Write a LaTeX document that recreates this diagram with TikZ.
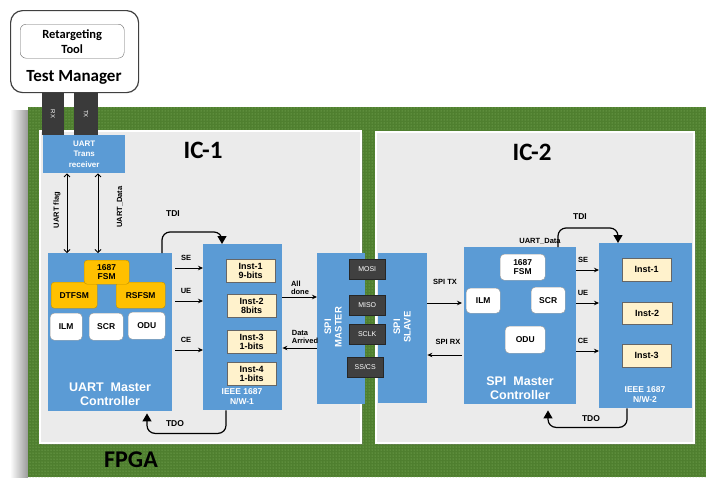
\documentclass[tikz,border=0pt]{standalone}
\usepackage{fontspec}
\setmainfont{Liberation Sans}
\newfontfamily\headfont{Carlito}
\usepackage{tikz}
\usetikzlibrary{positioning,patterns,arrows.meta,shadows}
\definecolor{BoardGreen}{HTML}{4F7F2F}
\definecolor{DotGreen}{HTML}{8CBC6A}
\definecolor{PanelGray}{HTML}{EBEBEB}
\definecolor{BlockBlue}{HTML}{5B9BD5}
\definecolor{FsmOrange}{HTML}{FFC000}
\definecolor{FsmEdge}{HTML}{BF9000}
\definecolor{InstCream}{HTML}{FFF2CC}
\definecolor{PinGray}{HTML}{404040}

\begin{document}
\begin{tikzpicture}[
      x=1pt, y=-1pt,
      every node/.style={align=center, inner sep=0pt, font=\bfseries},
      dims/.style 2 args={minimum width=#1, minimum height=#2},
      panel/.style={fill=PanelGray, draw=white, line width=2pt, anchor=north west, drop shadow={shadow xshift=1.5pt, shadow yshift=-1.5pt, opacity=0.3}},
      block/.style={fill=BlockBlue, anchor=north west},
      fsm/.style={draw=FsmEdge, fill=FsmOrange, rounded corners=3pt, anchor=north west, font=\bfseries\fontsize{8.5}{9.5}\selectfont},
      unit/.style={draw=black!40, fill=white, rounded corners=4pt, anchor=north west, font=\bfseries\fontsize{8.5}{9.5}\selectfont},
      inst/.style={draw=black!60, fill=InstCream, anchor=north west, dims={49}{23}, font=\bfseries\fontsize{9}{9.5}\selectfont},
      pinbox/.style={draw=black!85, fill=PinGray, text=white, anchor=north west, dims={36}{20}, font=\fontsize{7}{7}\selectfont},
      port/.style={fill=PinGray!90!black, text=white, dims={42}{22}, rotate=-90, font=\fontsize{6}{6}\selectfont},
      title/.style={font=\headfont\bfseries\fontsize{25}{25}\selectfont},
      ctrlname/.style={text=white, font=\bfseries\fontsize{12.5}{14}\selectfont},
      nwname/.style={text=white, font=\bfseries\fontsize{8.5}{10}\selectfont},
      tag/.style={font=\bfseries\fontsize{7.5}{8}\selectfont},
      scanname/.style={font=\bfseries\fontsize{8.5}{9}\selectfont},
      arrow/.style={line width=0.8pt, -{Stealth[length=5pt, width=4.5pt]}},
      scanpath/.style={line width=1.2pt, rounded corners=8pt, -{Triangle[length=8pt, width=9pt]}},
      link/.style={line width=0.8pt, {Straight Barb[length=3pt, width=6pt]}-{Straight Barb[length=3pt, width=6pt]}}
    ]
      \useasboundingbox (0,0) rectangle (706,477);
      \fill[white] (0,0) rectangle (706,477);

      % FPGA board
      \shade[left color=white, right color=black!40] (10,110) rectangle (28,477);
      \fill[BoardGreen] (28,107) rectangle (706,477);
      \fill[pattern=dots, pattern color=DotGreen] (28,107) rectangle (706,477);
      \node[font=\headfont\bfseries\fontsize{24}{24}\selectfont] (fpga) at (131,460) {FPGA};
      \node[panel, dims={321}{312}] (ica) at (39,130) {};
      \node[panel, dims={318}{311}] (icb) at (375,131) {};
      \node[title] (icaname) at (203,150) {IC-1};
      \node[title] (icbname) at (532,152) {IC-2};

      % Test manager
      \node[draw=black!75, line width=1.2pt, fill=white, rounded corners=12pt, anchor=north west, dims={128}{82}] (tm) at (10,10) {};
      \node[draw=black!60, rounded corners=6pt, anchor=north west, dims={104}{34}, font=\headfont\bfseries\fontsize{12.5}{15}\selectfont] (retool) at (20,24) {Retargeting\\Tool};
      \node[font=\headfont\bfseries\fontsize{17}{17}\selectfont] (tmname) at (74,77) {Test Manager};
      \node[port] (rx) at (53,114) {RX};
      \node[port, minimum height=24] (tx) at (86,114) {TX};

      % IC-1
      \node[block, dims={82}{38}, text=white, font=\bfseries\fontsize{8}{10.5}\selectfont] (trx) at (43,135) {UART\\Trans\\receiver};
      \node[block, dims={124}{158}] (uartmc) at (48,253) {};
      \node[ctrlname] (uartmcname) at (110,394) {UART\ \ Master\\Controller};
      \node[fsm, dims={46}{26}] (dtfsm) at (51,282) {DTFSM};
      \node[fsm, dims={49}{26}] (rsfsm) at (116,282) {RSFSM};
      \node[fsm, dims={45}{24}] (fsma) at (84,260) {1687\\FSM};
      \node[unit, dims={32}{27}] (ilma) at (50,313) {ILM};
      \node[unit, dims={34}{27}] (scra) at (89,313) {SCR};
      \node[unit, dims={37}{27}] (odua) at (128,312) {ODU};

      \node[block, dims={79}{166}] (nwa) at (203,244) {};
      \node[nwname] (nwaname) at (242,397) {IEEE 1687\\N/W-1};
      \node[inst] (insta) at (226,259) {Inst-1\\9-bits};
      \node[inst] (instb) at (227,294) {Inst-2\\8bits};
      \node[inst] (instc) at (227,330) {Inst-3\\1-bits};
      \node[inst] (instd) at (227,362) {Inst-4\\1-bits};

      \draw[link] (trx.south -| 67,0) -- (uartmc.north -| 67,0);
      \draw[link] (trx.south -| 98,0) -- (uartmc.north -| 98,0);
      \node[tag, rotate=90] (flaglbl) at (57,210) {UART flag};
      \node[tag, rotate=90] (datalbl) at (120,207) {UART\_Data};

      \foreach \sig/\yy in {SE/268, UE/301, CE/350}{
        \draw[arrow, shorten <=3pt] (uartmc.east |- 0,\yy) -- (nwa.west |- 0,\yy);
        \node[tag] (\sig-a) at (186,\yy-10) {\sig};
      }
      \draw[scanpath] (uartmc.north -| 162,0) -- ++(0,-21) -| (nwa.north -| 222,0);
      \node[scanname] (tdia) at (173,214) {TDI};
      \draw[scanpath, shorten >=2pt] (nwa.south -| 226,0) -- ++(0,23) -| (uartmc.south -| 147,0);
      \node[scanname] (tdoa) at (175,424) {TDO};

      % SPI link
      \node[block, dims={48}{151}] (spim) at (317,253) {};
      \node[nwname, rotate=90, font=\bfseries\fontsize{9.5}{10.5}\selectfont] (spimname) at (333,327) {SPI\\MASTER};
      \node[block, dims={49}{150}] (spis) at (378,253) {};
      \node[nwname, rotate=90, font=\bfseries\fontsize{9.5}{10.5}\selectfont] (spisname) at (402,327) {SPI\\SLAVE};
      \node[pinbox] (mosi) at (349,259) {MOSI};
      \node[pinbox] (miso) at (349,295) {MISO};
      \node[pinbox] (sclk) at (349,324) {SCLK};
      \node[pinbox] (sscs) at (347,357) {SS/CS};

      \draw[arrow] (nwa.east |- 0,297) -- (spim.west |- 0,297);
      \node[tag, align=left] (alldone) at (300,288) {All\\done};
      \draw[arrow] (spim.west |- 0,348) -- (nwa.east |- 0,348);
      \node[tag, align=left] (dataarr) at (305,337) {Data\\Arrived};

      % IC-2
      \node[block, dims={112}{157}] (spimc) at (464,247) {};
      \node[ctrlname] (spimcname) at (520,388) {SPI\ \ Master\\Controller};
      \node[unit, dims={45}{26}] (fsmb) at (500,254) {1687\\FSM};
      \node[unit, dims={34}{25}] (ilmb) at (466,288) {ILM};
      \node[unit, dims={34}{26}] (scrb) at (531,287) {SCR};
      \node[unit, dims={40}{27}] (odub) at (505,326) {ODU};

      \node[block, dims={93}{165}] (nwb) at (599,243) {};
      \node[nwname] (nwbname) at (645,395) {IEEE 1687\\N/W-2};
      \node[inst] (inste) at (622,258) {Inst-1};
      \node[inst, dims={50}{22}] (instf) at (622,302) {Inst-2};
      \node[inst] (instg) at (622,344) {Inst-3};

      \draw[arrow, shorten >=2pt] (spis.east |- 0,303) -- (spimc.west |- 0,303);
      \node[tag] (spitx) at (445,282) {SPI TX};
      \draw[arrow, shorten <=2pt] (spimc.west |- 0,355) -- (spis.east |- 0,355);
      \node[tag] (spirx) at (448,342) {SPI RX};

      \foreach \sig/\yy in {SE/270, UE/303, CE/351}{
        \draw[arrow] (spimc.east |- 0,\yy) -- (nwb.west |- 0,\yy);
        \node[tag] (\sig-b) at (583,\yy-10) {\sig};
      }
      \node[tag] (uartdata) at (540,241) {UART\_Data};
      \draw[scanpath] (spimc.north -| 558,0) -- ++(0,-19) -| (nwb.north -| 618,0);
      \node[scanname] (tdib) at (580,217) {TDI};
      \draw[scanpath, shorten >=6pt] (nwb.south -| 627,0) -- ++(0,19) -| (spimc.south -| 548,0);
      \node[scanname] (tdob) at (591,419) {TDO};

    \end{tikzpicture}
\end{document}
